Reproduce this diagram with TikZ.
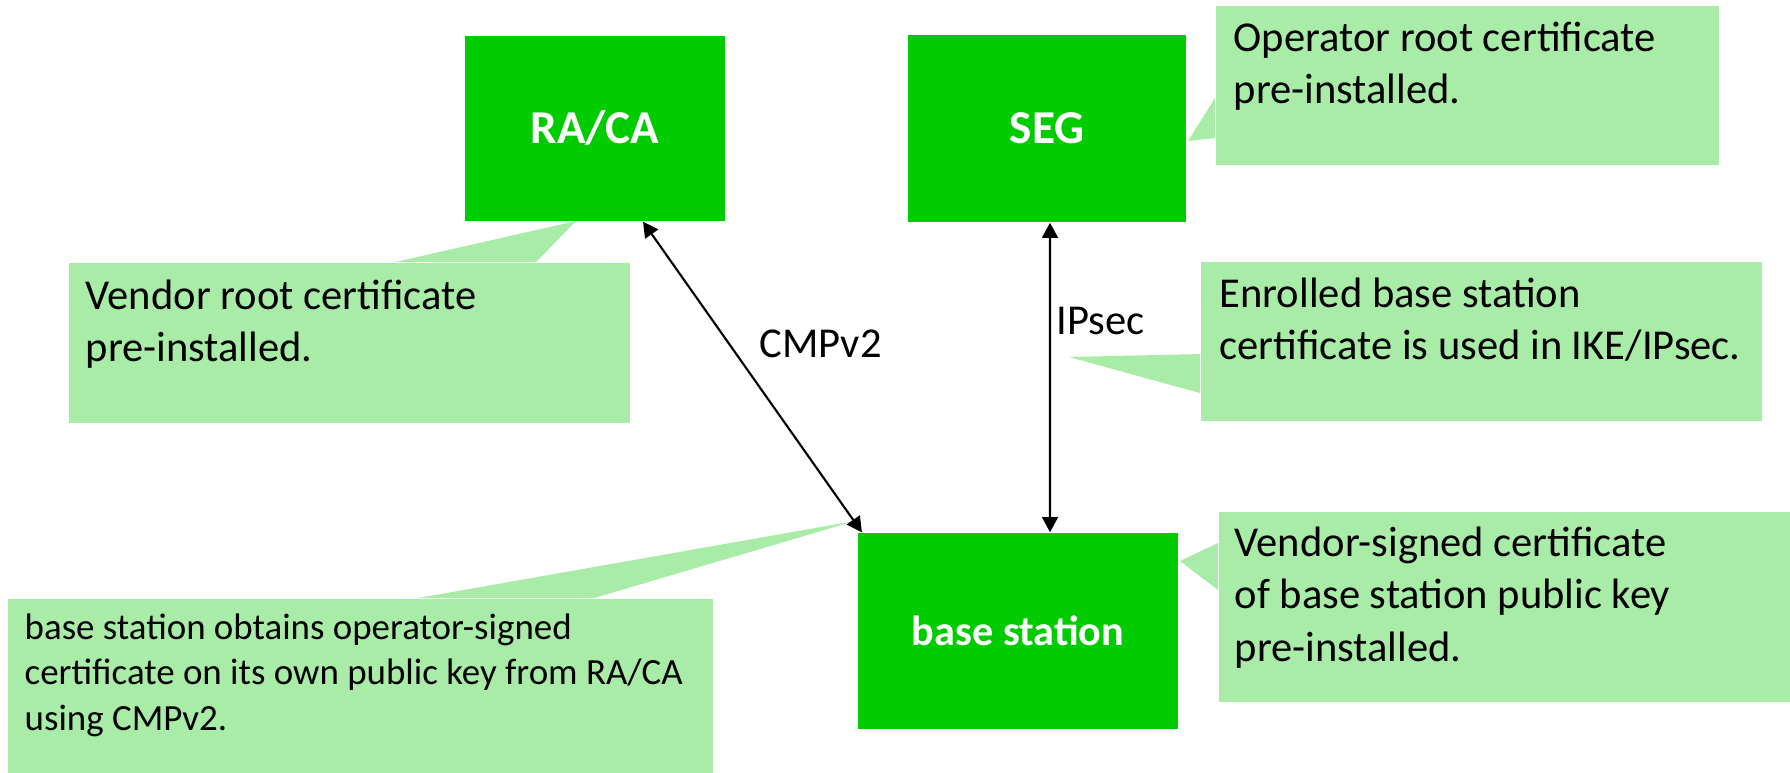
\documentclass[tikz,border=0pt]{standalone}
\usepackage{fontspec}
\setmainfont{Carlito}
\usetikzlibrary{positioning, arrows.meta}
\definecolor{boxgreen}{RGB}{0,204,0}
\definecolor{notegreen}{RGB}{168,236,168}
\tikzset{
    station/.style={fill=boxgreen, text=white, font=\fontsize{13.4}{16}\selectfont\bfseries, inner sep=0pt},
    note/.style={fill=notegreen, anchor=north west, inner sep=0pt},
    notetext/.style={anchor=base west, align=left, inner sep=0pt, font=\fontsize{12.1}{14.8}\selectfont},
    smalltext/.style={notetext, font=\fontsize{10.5}{12.8}\selectfont},
    link/.style={<->, line width=0.6pt}
}

\begin{document}
\begin{tikzpicture}[x=0.01cm, y=-0.01cm, >={Triangle[width=4.5pt, length=4.3pt]}]
  \useasboundingbox (0,0) rectangle (1790,773);

  \node(RACA)[station, minimum width=2.60cm, minimum height=1.85cm] at (595,128.5){RA/CA};
  \node(SEG)[station, minimum width=2.78cm, minimum height=1.87cm] at (1047,128.5){SEG};
  \node(BS)[station, minimum width=3.20cm, minimum height=1.96cm, font=\fontsize{12}{14}\selectfont\bfseries] at (1018,631){base station};

  % callouts
  \node(vrc)[note, minimum width=5.61cm, minimum height=1.60cm] at (68,262){};
  \node(orc)[note, minimum width=5.03cm, minimum height=1.59cm] at (1215,5){};
  \node(ebs)[note, minimum width=5.61cm, minimum height=1.59cm] at (1200,261){};
  \node(vsc)[note, minimum width=5.72cm, minimum height=1.90cm] at (1218,511){};
  \node(obt)[note, minimum width=7.05cm, minimum height=1.75cm] at (7,598){};

  \coordinate(vrctip) at (576,221);
  \coordinate(orctip) at (1188,141);
  \coordinate(ebstip) at (1069,357);
  \coordinate(vsctip) at (1180,561);
  \coordinate(obttip) at (855,521);

  \fill[notegreen] ([xshift=3.27cm]vrc.north west) -- (vrctip) -- ([xshift=4.68cm]vrc.north west) -- cycle;
  \fill[notegreen] ([yshift=-0.93cm]orc.north west) -- (orctip) -- ([yshift=-1.33cm]orc.north west) -- cycle;
  \fill[notegreen] ([yshift=-0.93cm]ebs.north west) -- (ebstip) -- ([yshift=-1.32cm]ebs.north west) -- cycle;
  \fill[notegreen] ([yshift=-0.32cm]vsc.north west) -- (vsctip) -- ([yshift=-0.79cm]vsc.north west) -- cycle;
  \fill[notegreen] ([xshift=4.11cm]obt.north west) -- (obttip) -- ([xshift=5.87cm]obt.north west) -- cycle;

  % texts, placed at the baseline of their last line
  \node(vrctext)[notetext] at (85,362){Vendor root certificate\\pre-installed.};
  \node(orctext)[notetext] at (1233,104){Operator root certificate\\pre-installed.};
  \node(ebstext)[notetext] at (1219,360){Enrolled base station\\certificate is used in IKE/IPsec.};
  \node(vsctext)[notetext] at (1234,661){Vendor-signed certificate\\of base station public key\\pre-installed.};
  \node(obttext)[smalltext] at (24,730){base station obtains operator-signed\\certificate on its own public key from RA/CA\\using CMPv2.};

  \node(cmp)[notetext] at (759,357){CMPv2};
  \node(ipsec)[notetext] at (1056,335){IPsec};

  \draw[link]([xshift=0.48cm]RACA.south)--([xshift=-1.56cm]BS.north);
  \draw[link]([xshift=0.03cm]SEG.south)--([xshift=0.32cm]BS.north);
\end{tikzpicture}
\end{document}
